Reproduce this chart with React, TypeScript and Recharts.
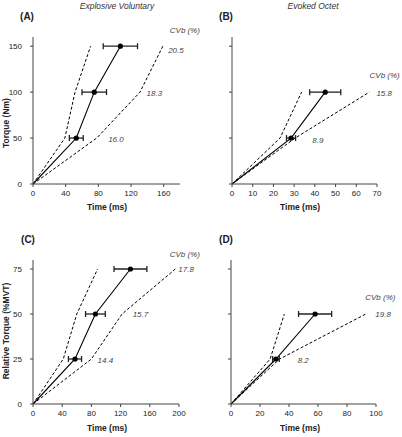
import { ComposedChart, Line, Scatter, XAxis, YAxis, ErrorBar, ReferenceDot } from 'recharts'

const FONT = "'Liberation Sans', Arial, sans-serif"

// (A) explosive voluntary, absolute torque (Nm) vs time (ms)
const torqueA = [0, 50, 100, 150]
const meanA = [0, 53, 75, 107]
const sdA = [0, 8.5, 15, 21]
const fastA = [0, 39, 51.5, 70.5]
const slowA = [0, 78, 131, 159]
const cvA = [16.0, 18.3, 20.5]
const cvXA = [92, 139, 165.5]
const cvYA = [49, 99, 146]
const cvHeadA = [186, 167]

// (B) evoked octet, absolute torque
const torqueB = [0, 50, 100]
const meanB = [0, 28.5, 45]
const sdB = [0, 2.2, 7.5]
const fastB = [0, 23.2, 33.6]
const slowB = [0, 30.5, 66.3]
const cvB = [8.9, 15.8]
const cvXB = [38.8, 69.7]
const cvYB = [48, 99]
const cvHeadB = [73.7, 118]

// (C) explosive voluntary, relative torque (%MVT)
const torqueC = [0, 25, 50, 75]
const meanC = [0, 57.5, 85.5, 133.5]
const sdC = [0, 9, 13.5, 22.5]
const fastC = [0, 41.5, 60, 88.5]
const slowC = [0, 80, 122, 195]
const cvC = [14.4, 15.7, 17.8]
const cvXC = [88.5, 136.5, 199]
const cvYC = [24.6, 50, 75]
const cvHeadC = [208, 83]

// (D) evoked octet, relative torque
const torqueD = [0, 25, 50]
const meanD = [0, 31, 58]
const sdD = [0, 2.3, 11.4]
const fastD = [0, 27, 36.8]
const slowD = [0, 33.5, 93]
const cvD = [8.2, 19.8]
const cvXD = [46, 99.5]
const cvYD = [24.3, 50]
const cvHeadD = [103, 59.6]

const timeTicksA = [0, 40, 80, 120, 160]
const timeTicksB = [0, 10, 20, 30, 40, 50, 60, 70]
const timeTicksC = [0, 40, 80, 120, 160, 200]
const timeTicksD = [0, 20, 40, 60, 80, 100]
const absTicks = [0, 50, 100, 150]
const relTicks = [0, 25, 50, 75]

const toRows = (xs: number[], ys: number[]) => xs.map((x, i) => ({ x, y: ys[i] }))

interface PanelProps {
  left: number
  top: number
  width: number
  height: number
  marginTop: number
  marginRight: number
  yAxisWidth: number
  xAxisHeight: number
  xDomain: [number, number]
  xTicks: number[]
  yDomain: [number, number]
  yTicks: number[]
  yLabels: boolean
  torque: number[]
  mean: number[]
  sd: number[]
  fast: number[]
  slow: number[]
  cv: number[]
  cvX: number[]
  cvY: number[]
  cvHead: number[]
}

const dotShape = (p: any) => <circle cx={p.cx} cy={p.cy} r={2.6} fill="#000" />

function Panel(p: PanelProps) {
  const meanRows = toRows(p.mean, p.torque)
  const points = p.mean.slice(1).map((x, i) => ({ x, y: p.torque[i + 1], sd: p.sd[i + 1] }))
  const notes = p.cv.map((v, i) => ({ text: v.toFixed(1), x: p.cvX[i], y: p.cvY[i], anchor: 'start' }))
  notes.push({ text: 'CVb (%)', x: p.cvHead[0], y: p.cvHead[1], anchor: 'middle' })

  return (
    <div style={{ position: 'absolute', left: p.left, top: p.top }}>
      <ComposedChart
        width={p.width}
        height={p.height}
        margin={{ top: p.marginTop, right: p.marginRight, bottom: 0, left: 0 }}
      >
        <XAxis
          type="number"
          dataKey="x"
          domain={p.xDomain}
          ticks={p.xTicks}
          interval={0}
          height={p.xAxisHeight}
          stroke="#444"
          tickSize={3}
          tickMargin={3}
          tick={{ fill: '#222', fontSize: 8, fontFamily: FONT }}
        />
        <YAxis
          type="number"
          dataKey="y"
          domain={p.yDomain}
          ticks={p.yTicks}
          interval={0}
          width={p.yAxisWidth}
          stroke="#444"
          tickSize={3}
          tickMargin={8}
          tick={{ fill: '#222', fontSize: 8, fontFamily: FONT }}
          tickFormatter={(v) => (p.yLabels ? String(v) : '')}
        />
        <Line data={toRows(p.fast, p.torque)} dataKey="y" type="linear" stroke="#000" strokeWidth={1}
          strokeDasharray="3 2" dot={false} isAnimationActive={false} />
        <Line data={toRows(p.slow, p.torque)} dataKey="y" type="linear" stroke="#000" strokeWidth={1}
          strokeDasharray="3 2" dot={false} isAnimationActive={false} />
        <Line data={meanRows} dataKey="y" type="linear" stroke="#000" strokeWidth={1.1}
          dot={false} isAnimationActive={false} />
        <Scatter data={points} dataKey="y" shape={dotShape} isAnimationActive={false}>
          <ErrorBar dataKey="sd" direction="x" width={3} stroke="#222" strokeWidth={1.3} isAnimationActive={false} />
        </Scatter>
        {notes.map((n) => (
          <ReferenceDot
            key={n.text}
            x={n.x}
            y={n.y}
            r={0}
            ifOverflow="visible"
            shape={(s: any) => (
              <text x={s.cx} y={s.cy} dy="0.35em" textAnchor={n.anchor} fill="#444"
                fontSize={8} fontStyle="italic" fontFamily={FONT}>
                {n.text}
              </text>
            )}
          />
        ))}
      </ComposedChart>
    </div>
  )
}

const textStyle = (x: number, y: number, extra: React.CSSProperties = {}): React.CSSProperties => ({
  position: 'absolute',
  left: x,
  top: y,
  transform: 'translate(-50%, -50%)',
  whiteSpace: 'nowrap',
  fontFamily: FONT,
  color: '#222',
  lineHeight: 1,
  ...extra,
})

const rotated = { transform: 'translate(-50%, -50%) rotate(-90deg)' }

export default function App() {
  return (
    <div style={{ position: 'absolute', left: 0, top: 0, width: 402, height: 437, background: '#fff' }}>
      <Panel left={0} top={0} width={200} height={215} marginTop={37} marginRight={20}
        yAxisWidth={33} xAxisHeight={31} xDomain={[0, 180]} xTicks={timeTicksA}
        yDomain={[0, 160]} yTicks={absTicks} yLabels
        torque={torqueA} mean={meanA} sd={sdA} fast={fastA} slow={slowA}
        cv={cvA} cvX={cvXA} cvY={cvYA} cvHead={cvHeadA} />
      <Panel left={200} top={0} width={202} height={215} marginTop={37} marginRight={25}
        yAxisWidth={32} xAxisHeight={31} xDomain={[0, 70]} xTicks={timeTicksB}
        yDomain={[0, 160]} yTicks={absTicks} yLabels={false}
        torque={torqueB} mean={meanB} sd={sdB} fast={fastB} slow={slowB}
        cv={cvB} cvX={cvXB} cvY={cvYB} cvHead={cvHeadB} />
      <Panel left={0} top={215} width={200} height={222} marginTop={45} marginRight={21}
        yAxisWidth={33} xAxisHeight={33} xDomain={[0, 200]} xTicks={timeTicksC}
        yDomain={[0, 80]} yTicks={relTicks} yLabels
        torque={torqueC} mean={meanC} sd={sdC} fast={fastC} slow={slowC}
        cv={cvC} cvX={cvXC} cvY={cvYC} cvHead={cvHeadC} />
      <Panel left={200} top={215} width={202} height={222} marginTop={45} marginRight={26}
        yAxisWidth={31} xAxisHeight={33} xDomain={[0, 100]} xTicks={timeTicksD}
        yDomain={[0, 80]} yTicks={relTicks} yLabels={false}
        torque={torqueD} mean={meanD} sd={sdD} fast={fastD} slow={slowD}
        cv={cvD} cvX={cvXD} cvY={cvYD} cvHead={cvHeadD} />

      <div style={textStyle(117, 6, { fontSize: 8.5, fontStyle: 'italic', color: '#333' })}>Explosive Voluntary</div>
      <div style={textStyle(313, 6, { fontSize: 8.5, fontStyle: 'italic', color: '#333' })}>Evoked Octet</div>

      <div style={textStyle(27, 17, { fontSize: 10, fontWeight: 'bold' })}>(A)</div>
      <div style={textStyle(226, 17, { fontSize: 10, fontWeight: 'bold' })}>(B)</div>
      <div style={textStyle(28, 240, { fontSize: 10, fontWeight: 'bold' })}>(C)</div>
      <div style={textStyle(226, 240, { fontSize: 10, fontWeight: 'bold' })}>(D)</div>

      <div style={textStyle(6, 123, { fontSize: 8.5, fontWeight: 'bold', ...rotated })}>Torque (Nm)</div>
      <div style={textStyle(6, 331, { fontSize: 8.5, fontWeight: 'bold', ...rotated })}>Relative Torque (%MVT)</div>

      <div style={textStyle(107, 207, { fontSize: 8.5, fontWeight: 'bold' })}>Time (ms)</div>
      <div style={textStyle(300, 207, { fontSize: 8.5, fontWeight: 'bold' })}>Time (ms)</div>
      <div style={textStyle(107, 428, { fontSize: 8.5, fontWeight: 'bold' })}>Time (ms)</div>
      <div style={textStyle(300, 428, { fontSize: 8.5, fontWeight: 'bold' })}>Time (ms)</div>
    </div>
  )
}
